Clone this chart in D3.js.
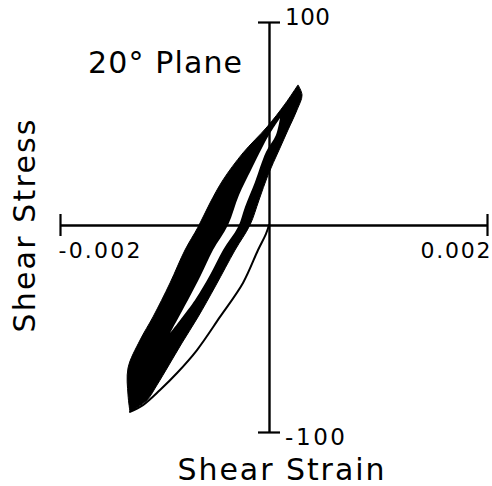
<!DOCTYPE html>
<html>
<head>
<meta charset="utf-8">
<script src="https://cdn.jsdelivr.net/npm/d3@7"></script>
<style>
  html, body { margin: 0; padding: 0; background: #fff; }
  svg { display: block; }
  text { font-family: "DejaVu Sans", sans-serif; fill: #000; }
</style>
</head>
<body>
<svg id="chart" width="492" height="486"></svg>
<script>
// Axis ticks
const xTickValues = [-0.002, 0.002];
const xTickLabels = ["-0.002", "0.002"];
const yTickValues = [100, -100];
const yTickLabels = ["100", "-100"];

// Initial loading curve, from the origin to the first reversal
const virginStrain = [0, -0.000029, -0.000105, -0.000249, -0.000469, -0.000689, -0.000880, -0.001043, -0.001206, -0.001330];
const virginStress = [0, -4.3, -12.1, -28.0, -44.4, -60.4, -71.5, -79.7, -87.0, -90.3];

// Band swept by the repeated cycles: unloading edge (bottom to top)
const bandLeftStrain = [-0.001330, -0.001349, -0.001349, -0.001234, -0.001110, -0.000947, -0.000804, -0.000679, -0.000565, -0.000440, -0.000249, -0.000019, 0.000147, 0.000266];
const bandLeftStress = [-90.3, -82.1, -69.1, -55.6, -44.4, -28.0, -12.1, -1.0, 10.8, 22.2, 35.5, 48.3, 59.6, 69.0];

// Band swept by the repeated cycles: reloading edge (bottom to top)
const bandRightStrain = [-0.001330, -0.001167, -0.001072, -0.000957, -0.000833, -0.000679, -0.000507, -0.000325, -0.000182, -0.0000957, -0.0000096, 0.000092, 0.000174, 0.000257, 0.000303, 0.000266];
const bandRightStress = [-90.3, -84.5, -77.3, -67.6, -57.0, -44.4, -29.0, -12.1, 0, 12.3, 24.6, 36.9, 46.8, 56.7, 64.0, 69.0];

// Open interior of the loops (bottom to top)
const holeLeftStrain = [-0.000947, -0.000775, -0.000651, -0.000536, -0.000392, -0.000287, -0.000172, -0.000067, 0.000000, 0.000101];
const holeLeftStress = [-52.2, -36.2, -24.2, -12.1, 0, 14.8, 27.1, 37.9, 44.3, 52.7];
const holeRightStrain = [-0.000947, -0.000708, -0.000565, -0.000440, -0.000297, -0.000230, -0.000134, -0.000029, 0.000064, 0.000101];
const holeRightStress = [-52.2, -36.2, -24.2, -12.1, -1.0, 8.9, 21.2, 36.0, 44.3, 52.7];

const svg = d3.select("#chart");

const x = d3.scaleLinear().domain([-0.002, 0, 0.002]).range([60, 269, 487]);
const y = d3.scaleLinear().domain([-100, 0, 100]).range([432, 225, 22]);

const pts = (xs, ys) => xs.map((v, i) => [x(v), y(ys[i])]);
const smooth = d3.line().curve(d3.curveCatmullRom.alpha(0.5));

// Closed outline made of two edges that share their end points
function regionPath(leftEdge, rightEdge) {
  const a = smooth(leftEdge);
  const b = smooth(rightEdge.slice().reverse());
  return a + "L" + b.slice(1) + "Z";
}

// Swept band
svg.append("path")
  .attr("d", regionPath(pts(bandLeftStrain, bandLeftStress), pts(bandRightStrain, bandRightStress)))
  .attr("fill", "#000")
  .attr("stroke", "#000")
  .attr("stroke-width", 1)
  .attr("stroke-linejoin", "round");

// Interior opening
svg.append("path")
  .attr("d", regionPath(pts(holeLeftStrain, holeLeftStress), pts(holeRightStrain, holeRightStress)))
  .attr("fill", "#fff");

// Initial loading curve
svg.append("path")
  .attr("d", smooth(pts(virginStrain, virginStress)))
  .attr("fill", "none")
  .attr("stroke", "#000")
  .attr("stroke-width", 2)
  .attr("stroke-linecap", "round");

// X axis
const xAxis = svg.append("g")
  .attr("transform", `translate(0,${y(0)})`)
  .call(d3.axisBottom(x).tickValues(xTickValues).tickSize(11).tickSizeOuter(0)
    .tickFormat((d, i) => xTickLabels[i]));
xAxis.select(".domain").attr("stroke-width", 2.4);
xAxis.selectAll(".tick line").attr("y1", -11).attr("stroke-width", 2.2);
xAxis.selectAll(".tick text")
  .attr("y", 33).attr("dy", null)
  .attr("font-size", 22)
  .attr("font-family", "DejaVu Sans")
  .attr("text-anchor", (d, i) => i === 0 ? "start" : "end")
  .attr("x", (d, i) => i === 0 ? -2 : 3)
  .attr("textLength", (d, i) => i === 0 ? 82 : 70)
  .attr("lengthAdjust", "spacing");

// Y axis
const yAxis = svg.append("g")
  .attr("transform", `translate(${x(0)},0)`)
  .call(d3.axisRight(y).tickValues(yTickValues).tickSize(11).tickSizeOuter(0)
    .tickFormat((d, i) => yTickLabels[i]));
yAxis.select(".domain").attr("stroke-width", 2.4);
yAxis.selectAll(".tick line").attr("x1", -11).attr("stroke-width", 2.2);
yAxis.selectAll(".tick text")
  .attr("x", 16).attr("dy", (d, i) => i === 0 ? "0.1em" : "0.55em")
  .attr("font-size", 23)
  .attr("font-family", "DejaVu Sans")
  .attr("textLength", (d, i) => i === 0 ? 45 : 60)
  .attr("lengthAdjust", "spacing");

// Titles
svg.append("text")
  .attr("x", 88).attr("y", 73)
  .attr("font-size", 30)
  .attr("textLength", 154).attr("lengthAdjust", "spacing")
  .text("20° Plane");

svg.append("text")
  .attr("transform", "translate(35,226) rotate(-90)")
  .attr("text-anchor", "middle")
  .attr("font-size", 30)
  .attr("textLength", 213).attr("lengthAdjust", "spacing")
  .text("Shear Stress");

svg.append("text")
  .attr("x", 281).attr("y", 480)
  .attr("text-anchor", "middle")
  .attr("font-size", 30)
  .attr("textLength", 207).attr("lengthAdjust", "spacing")
  .text("Shear Strain");
</script>
</body>
</html>
